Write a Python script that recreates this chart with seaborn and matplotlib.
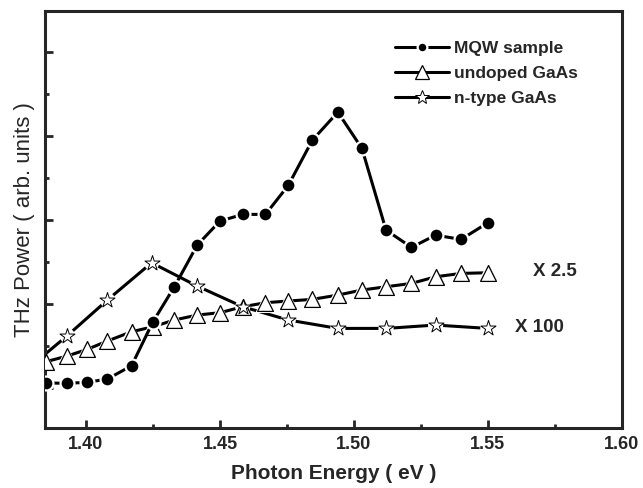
import numpy as np
import pandas as pd
import matplotlib
matplotlib.use("Agg")
import matplotlib.pyplot as plt
import seaborn as sns
from matplotlib.ticker import MultipleLocator, NullFormatter

# ---- data ----
mqw_x = [1.385, 1.393, 1.4005, 1.408, 1.417, 1.425, 1.433, 1.4415, 1.450, 1.4585,
         1.467, 1.4755, 1.4845, 1.494, 1.503, 1.512, 1.5215, 1.5305, 1.540, 1.550]
mqw_y = [0.06, 0.056, 0.068, 0.107, 0.265, 0.789, 1.206, 1.702, 1.988, 2.068,
         2.068, 2.413, 2.952, 3.286, 2.854, 1.881, 1.675, 1.821, 1.770, 1.968]

und_x = mqw_x
und_y = [0.313, 0.381, 0.461, 0.56, 0.67, 0.73, 0.81, 0.869, 0.897, 0.968,
         1.016, 1.036, 1.056, 1.107, 1.167, 1.206, 1.246, 1.325, 1.365, 1.373]

nt_x = [1.376, 1.393, 1.408, 1.4245, 1.4415, 1.4585, 1.4755, 1.494, 1.512, 1.5305, 1.550]
nt_y = [0.17, 0.623, 1.048, 1.492, 1.214, 0.968, 0.81, 0.71, 0.71, 0.75, 0.71]

labels = ["MQW sample", "undoped GaAs", "n-type GaAs"]
x_ticks = [1.40, 1.45, 1.50, 1.55, 1.60]
annotations = ["X 2.5", "X 100"]

sns.set_style("ticks")
plt.rcParams["font.family"] = ["Liberation Sans", "DejaVu Sans"]

fig = plt.figure(figsize=(6.43, 4.88), dpi=100)
ax = fig.add_axes([0.070, 0.123, 0.897, 0.854])

lw = 2.2
# MQW: black circles with a white rim (gap to line)
sns.lineplot(x=mqw_x, y=mqw_y, ax=ax, color="black", lw=lw, marker="o",
             markersize=10, markerfacecolor="black", markeredgecolor="white",
             markeredgewidth=1.6, label=labels[0], sort=False, zorder=3)

# undoped GaAs: open triangles
sns.lineplot(x=und_x, y=und_y, ax=ax, color="black", lw=lw, marker="^",
             markersize=12, markerfacecolor="white", markeredgecolor="black",
             markeredgewidth=0.9, label=labels[1], sort=False, zorder=2)
sns.scatterplot(x=und_x, y=und_y, ax=ax, marker="^", s=220, color="white",
                edgecolor="none", zorder=2.5, legend=False)
sns.scatterplot(x=und_x, y=und_y, ax=ax, marker="^", s=130, color="white",
                edgecolor="black", linewidth=0.9, zorder=2.6, legend=False)

# n-type GaAs: open stars
sns.lineplot(x=nt_x, y=nt_y, ax=ax, color="black", lw=lw, marker="*",
             markersize=11, markerfacecolor="white", markeredgecolor="black",
             markeredgewidth=0.7, label=labels[2], sort=False, zorder=2)
sns.scatterplot(x=nt_x, y=nt_y, ax=ax, marker="o", s=120, color="white",
                edgecolor="none", zorder=2.5, legend=False)
sns.scatterplot(x=nt_x, y=nt_y, ax=ax, marker="*", s=130, color="white",
                edgecolor="black", linewidth=0.7, zorder=2.6, legend=False)

ax.set_xlim(1.3847, 1.60)
ax.set_ylim(-0.476, 4.488)
ax.set_xticks(x_ticks)
ax.set_xticklabels([f"{t:.2f}" for t in x_ticks], fontsize=13, fontweight="bold")
ax.xaxis.set_minor_locator(MultipleLocator(0.025))
ax.yaxis.set_major_locator(MultipleLocator(1.0))
ax.yaxis.set_minor_locator(MultipleLocator(0.5))
ax.yaxis.set_major_formatter(NullFormatter())
ax.tick_params(which="both", direction="in", width=2, top=False, right=False)
ax.tick_params(which="major", length=6)
ax.tick_params(which="minor", length=3)
ax.tick_params(axis="x", pad=6)
for s in ax.spines.values():
    s.set_linewidth(2.2)
    s.set_visible(True)

ax.set_xlabel("Photon Energy ( eV )", fontsize=15, fontweight="bold", labelpad=8)
ax.set_ylabel("THz Power ( arb. units )", fontsize=16, labelpad=4)

ax.text(1.5668, 1.39, annotations[0], fontsize=13.5, fontweight="bold", va="center", ha="left")
ax.text(1.5603, 0.725, annotations[1], fontsize=13.5, fontweight="bold", va="center", ha="left")

leg = ax.legend(loc="upper left", bbox_to_anchor=(0.595, 0.946), frameon=False,
                prop={"weight": "bold", "size": 12.5}, handlelength=3.1,
                handletextpad=0.3, labelspacing=0.58, borderaxespad=0.0)
for h, ms in zip(leg.legend_handles, [7, 10, 10]):
    h.set_markersize(ms)

fig.savefig("out.png", dpi=100)
